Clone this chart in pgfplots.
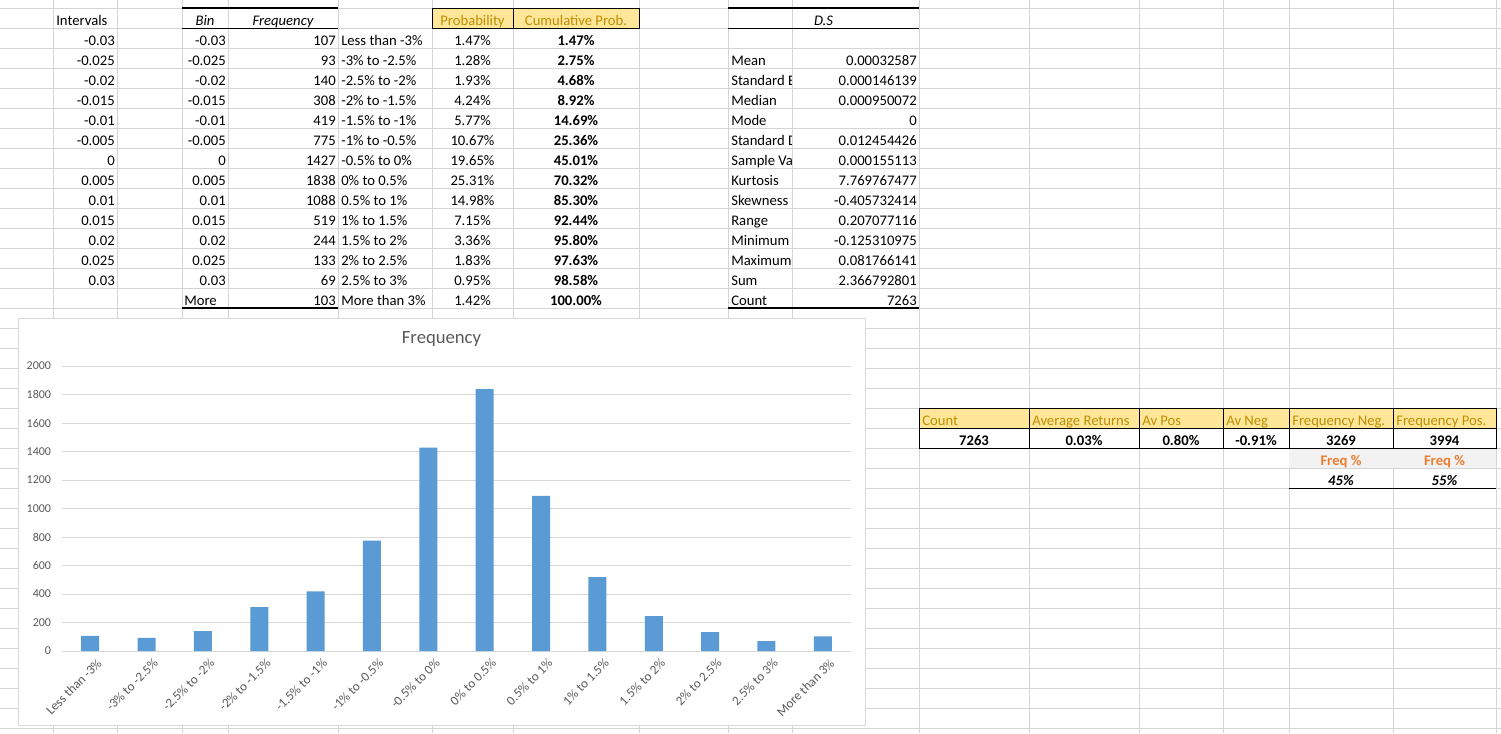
\documentclass[border=0pt]{standalone}
\usepackage{pgfplots}
\pgfplotsset{compat=1.18}
\usepackage{fontspec}
\setmainfont{Carlito}

\definecolor{gridc}{HTML}{D4D4D4}
\definecolor{chartgrid}{HTML}{D9D9D9}
\definecolor{axtext}{HTML}{595959}
\definecolor{barblue}{HTML}{5B9BD5}
\definecolor{hdrfill}{HTML}{FFE699}
\definecolor{hdrtext}{HTML}{BF8F00}
\definecolor{freqtext}{HTML}{ED7D31}
\definecolor{freqfill}{HTML}{F2F2F2}
\newcommand\cellfont{\fontsize{11}{13}\selectfont}

\begin{document}
\begin{tikzpicture}
% sheet drawn in pixel units, y going down
\begin{scope}[x=0.75pt,y=-0.75pt,
  L/.style={anchor=base west,inner sep=0pt,font=\cellfont},
  R/.style={anchor=base east,inner sep=0pt,font=\cellfont},
  C/.style={anchor=base,inner sep=0pt,font=\cellfont}]
\path[use as bounding box,fill=white] (0,0) rectangle (1501,733);
\foreach \y in {8,28,...,728} \draw[gridc,line width=0.75pt] (0,\y) -- (1501,\y);
\foreach \x in {53,117,182,228,338,432,513,639,728,792,919,1029,1139,1223,1289,1393,1496}
  \draw[gridc,line width=0.75pt] (\x,0) -- (\x,733);

% intervals / bins / frequency
\node[L] at (56,25) {Intervals};
\node[C] at (205,25) {\itshape Bin};
\node[C] at (283,25) {\itshape Frequency};
\foreach \v [count=\i] in {-0.03,-0.025,-0.02,-0.015,-0.01,-0.005,0,0.005,0.01,0.015,0.02,0.025,0.03} {
  \node[R] at (115,{25+20*\i}) {\v};
  \node[R] at (226,{25+20*\i}) {\v};
}
\node[L] at (184,305) {More};
\foreach \v [count=\i] in {107,93,140,308,419,775,1427,1838,1088,519,244,133,69,103}
  \node[R] at (336,{25+20*\i}) {\v};
\foreach \v [count=\i] in {Less than -3\%,-3\% to -2.5\%,-2.5\% to -2\%,-2\% to -1.5\%,-1.5\% to -1\%,-1\% to -0.5\%,-0.5\% to 0\%,0\% to 0.5\%,0.5\% to 1\%,1\% to 1.5\%,1.5\% to 2\%,2\% to 2.5\%,2.5\% to 3\%,More than 3\%}
  \node[L] at (341,{25+20*\i}) {\v};
\draw[black,line width=1.5pt] (182,8) -- (338,8);
\draw[black,line width=0.75pt] (182,28) -- (338,28);
\draw[black,line width=1.5pt] (182,308) -- (338,308);

% probabilities
\draw[fill=hdrfill,draw=black,line width=0.75pt] (432,8) rectangle (639,28);
\draw[black,line width=0.75pt] (513,8) -- (513,28);
\node[C,text=hdrtext] at (472.5,25) {Probability};
\node[C,text=hdrtext] at (576,25) {Cumulative Prob.};
\foreach \v [count=\i] in {1.47,1.28,1.93,4.24,5.77,10.67,19.65,25.31,14.98,7.15,3.36,1.83,0.95,1.42}
  \node[C] at (472.5,{25+20*\i}) {\v\%};
\foreach \v [count=\i] in {1.47,2.75,4.68,8.92,14.69,25.36,45.01,70.32,85.30,92.44,95.80,97.63,98.58,100.00}
  \node[C] at (576,{25+20*\i}) {\bfseries\v\%};

% descriptive statistics
\node[C] at (823.5,25) {\itshape D.S};
\draw[black,line width=1.5pt] (728,8) -- (919,8);
\draw[black,line width=0.75pt] (728,28) -- (919,28);
\draw[black,line width=1.5pt] (728,308) -- (919,308);
\begin{scope}
\clip (728,48) rectangle (791,308);
\foreach \v [count=\i] in {Mean,Standard Error,Median,Mode,Standard Deviation,Sample Variance,Kurtosis,Skewness,Range,Minimum,Maximum,Sum,Count}
  \node[L] at (731,{45+20*\i}) {\v};
\end{scope}
\foreach \v [count=\i] in {0.00032587,0.000146139,0.000950072,0,0.012454426,0.000155113,7.769767477,-0.405732414,0.207077116,-0.125310975,0.081766141,2.366792801,7263}
  \node[R] at (917,{45+20*\i}) {\v};

% count table
\fill[hdrfill] (919,408) rectangle (1496,428);
\fill[freqfill] (1289,448) rectangle (1496,468);
\draw[black,line width=0.75pt] (919,408) rectangle (1496,448);
\draw[black,line width=0.75pt] (919,428) -- (1496,428);
\foreach \x in {1029,1139,1223,1289,1393} \draw[black,line width=0.75pt] (\x,408) -- (\x,448);
\draw[black,line width=0.75pt] (1289,488) -- (1496,488);
\node[L,text=hdrtext] at (922,425) {Count};
\node[L,text=hdrtext] at (1032,425) {Average Returns};
\node[L,text=hdrtext] at (1142,425) {Av Pos};
\node[L,text=hdrtext] at (1226,425) {Av Neg};
\node[L,text=hdrtext] at (1292,425) {Frequency Neg.};
\node[L,text=hdrtext] at (1396,425) {Frequency Pos.};
\node[C] at (974,445) {\bfseries 7263};
\node[C] at (1084,445) {\bfseries 0.03\%};
\node[C] at (1181,445) {\bfseries 0.80\%};
\node[C] at (1256,445) {\bfseries -0.91\%};
\node[C] at (1341,445) {\bfseries 3269};
\node[C] at (1444.5,445) {\bfseries 3994};
\node[C,text=freqtext] at (1341,465) {\bfseries Freq \%};
\node[C,text=freqtext] at (1444.5,465) {\bfseries Freq \%};
\node[C] at (1341,485) {\bfseries\itshape 45\%};
\node[C] at (1444.5,485) {\bfseries\itshape 55\%};

% chart area
\draw[chartgrid,fill=white,line width=0.75pt] (18,318) rectangle (865,725);
\node[font=\fontsize{14}{16}\selectfont,text=axtext] at (441.5,339) {Frequency};
\end{scope}

\begin{axis}[at={(46.5pt,-488.25pt)},anchor=south west,scale only axis,
  width=591.75pt,height=213.75pt,
  xmin=-0.5,xmax=13.5,ymin=0,ymax=2000,
  ybar,bar width=13.5pt,
  ytick={0,200,...,2000},ymajorgrids,
  major grid style={chartgrid,line width=0.75pt},
  axis line style={draw=none},major tick length=0pt,
  xtick=data,
  xticklabels={Less than -3\%,-3\% to -2.5\%,-2.5\% to -2\%,-2\% to -1.5\%,-1.5\% to -1\%,-1\% to -0.5\%,-0.5\% to 0\%,0\% to 0.5\%,0.5\% to 1\%,1\% to 1.5\%,1.5\% to 2\%,2\% to 2.5\%,2.5\% to 3\%,More than 3\%},
  tick label style={font=\fontsize{9}{11}\selectfont,text=axtext},
  xticklabel style={font=\fontsize{9.8}{11}\selectfont,xshift=4.5pt,yshift=-5pt,rotate=45,anchor=north east,inner sep=0pt},
  yticklabel style={anchor=east,inner sep=0pt,xshift=-8pt},
  /pgf/number format/assume math mode=true,
  /pgf/number format/1000 sep={},
  clip=false]
\addplot[fill=barblue,draw=none] coordinates {
  (0,107) (1,93) (2,140) (3,308) (4,419) (5,775) (6,1427)
  (7,1838) (8,1088) (9,519) (10,244) (11,133) (12,69) (13,103)};
\end{axis}
\end{tikzpicture}
\end{document}
